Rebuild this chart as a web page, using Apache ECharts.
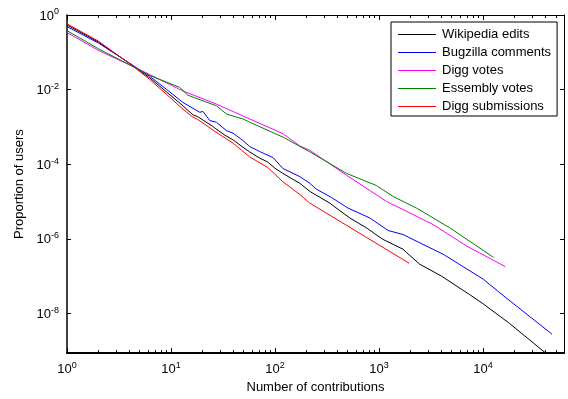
<!DOCTYPE html>
<html>
<head>
<meta charset="utf-8">
<script src="https://cdn.jsdelivr.net/npm/echarts@6/dist/echarts.min.js"></script>
<style>
html, body { margin: 0; padding: 0; background: #fff; }
#chart { width: 568px; height: 399px; }
</style>
</head>
<body>
<div id="chart"></div>
<script>
// values (log-log)
const wikiX = [1, 2, 3, 4, 6.2, 9, 13, 16.3, 18, 25, 27, 33, 40, 48, 57, 70, 85, 100, 119, 145, 173, 216, 270, 336, 420, 523, 640, 757, 900, 1090, 1400, 1700, 1840, 2460, 4000, 7450, 10000, 18000, 40000, 45000];
const wikiY = [0.54, 0.19, 0.087, 0.05, 0.021, 0.0088, 0.0037, 0.0021, 0.0019, 1.05e-3, 8.9e-4, 6.0e-4, 4.4e-4, 3.0e-4, 2.15e-4, 1.5e-4, 1.15e-4, 7.8e-5, 5.7e-5, 4.1e-5, 3.1e-5, 1.87e-5, 1.3e-5, 9.1e-6, 5.7e-6, 3.65e-6, 2.6e-6, 1.98e-6, 1.4e-6, 9.7e-7, 6.9e-7, 5.3e-7, 4.3e-7, 2.1e-7, 1.0e-7, 3.2e-8, 1.83e-8, 5.4e-9, 8.7e-10, 6.5e-10];

const bugX = [1, 2, 3, 4, 6.2, 9, 13, 18.9, 20.3, 23.6, 27.3, 34, 39.5, 49, 57, 71, 96, 119, 173, 216, 250, 348, 503, 814, 1222, 1702, 2649, 4121, 10000, 15560, 46000];
const bugY = [0.49, 0.178, 0.086, 0.051, 0.0231, 0.0103, 4.55e-3, 2.47e-3, 2.6e-3, 1.48e-3, 1.34e-3, 8.0e-4, 6.8e-4, 4.36e-4, 3.0e-4, 2.2e-4, 1.5e-4, 7.7e-5, 4.66e-5, 3.1e-5, 2.15e-5, 1.29e-5, 6.7e-6, 3.65e-6, 1.68e-6, 1.31e-6, 7.1e-7, 3.9e-7, 8.4e-8, 3.06e-8, 2.8e-9];

const diggVotesX = [1, 2, 3, 4, 6.2, 13, 27.3, 57, 119, 173, 216, 486, 1178, 3304, 6918, 16400];
const diggVotesY = [0.34, 0.113, 0.0665, 0.046, 0.0256, 9.2e-3, 4.1e-3, 1.64e-3, 6.6e-4, 3.1e-4, 2.37e-4, 5.1e-5, 1.01e-5, 2.43e-6, 6.5e-7, 1.8e-7];

const essX = [1, 2, 3, 4, 6.2, 9, 12.1, 14.5, 22, 27.3, 34.1, 49.2, 57, 119, 216, 486, 944, 1365, 2290, 4786, 12590];
const essY = [0.38, 0.125, 0.07, 0.046, 0.0241, 0.016, 0.0115, 7.1e-3, 4.6e-3, 3.7e-3, 2.22e-3, 1.64e-3, 1.34e-3, 5.36e-4, 2.15e-4, 5.7e-5, 2.69e-5, 1.37e-5, 6.7e-6, 1.98e-6, 3.2e-7];

const diggSubX = [1, 2, 3, 4, 6.2, 9, 13, 16.3, 18, 27, 34, 40, 57, 85, 119, 173, 216, 1942];
const diggSubY = [0.58, 0.2, 0.088, 0.05, 0.019, 0.0076, 3.0e-3, 1.82e-3, 1.6e-3, 7.3e-4, 4.8e-4, 3.56e-4, 1.58e-4, 8.2e-5, 3.4e-5, 1.55e-5, 9.1e-6, 2.24e-7];

const majorX = [1, 10, 100, 1000, 10000];
const minorX = [2, 3, 4, 5, 6, 7, 8, 9, 20, 30, 40, 50, 60, 70, 80, 90,
  200, 300, 400, 500, 600, 700, 800, 900, 2000, 3000, 4000, 5000, 6000, 7000, 8000, 9000,
  20000, 30000, 40000, 50000, 60000];
const majorY = [1e-8, 1e-6, 1e-4, 1e-2, 1];

const FONT = '"Liberation Sans", Arial, Helvetica, sans-serif';

function pairs(xs, ys) {
    return xs.map(function (x, i) { return [x, ys[i]]; });
}

function powLabel(v) {
    const e = Math.round(Math.log10(v));
    return '{b|10}{s|' + e + '}';
}

const rich = {
    b: { fontSize: 13, fontFamily: FONT, color: '#000', lineHeight: 15, verticalAlign: 'bottom' },
    s: { fontSize: 9, fontFamily: FONT, color: '#000', lineHeight: 15, verticalAlign: 'top' }
};

const chart = echarts.init(document.getElementById('chart'));

function xAx(pos, ticks, len, showLine, lineW, extra) {
    return Object.assign({
        type: 'log', logBase: 10, min: 1, max: 60000, position: pos,
        axisLine: { show: showLine, lineStyle: { color: '#000', width: lineW } },
        axisTick: { inside: true, length: len, customValues: ticks, lineStyle: { color: '#000', width: 1 } },
        axisLabel: { show: false },
        splitLine: { show: false },
        minorTick: { show: false }
    }, extra || {});
}

function yAx(pos, showLabel, lineW, extra) {
    return Object.assign({
        type: 'log', logBase: 10, min: 8.7e-10, max: 1, position: pos,
        axisLine: { show: true, lineStyle: { color: '#000', width: lineW } },
        axisTick: { inside: true, length: 4, customValues: majorY, lineStyle: { color: '#000', width: 1 } },
        axisLabel: showLabel ? { customValues: majorY, formatter: powLabel, rich: rich, margin: 8 } : { show: false },
        splitLine: { show: false },
        minorTick: { show: false }
    }, extra || {});
}

const lineSeries = function (name, xs, ys, color) {
    return {
        name: name, type: 'line', data: pairs(xs, ys),
        xAxisIndex: 0, yAxisIndex: 0,
        symbol: 'none', clip: true,
        lineStyle: { color: color, width: 1 },
        itemStyle: { color: color }
    };
};

const option = {
    animation: false,
    backgroundColor: '#fff',
    textStyle: { fontFamily: FONT },
    grid: { left: 67, right: 4, top: 15, bottom: 42, containLabel: false },
    legend: {
        left: 391, top: 22,
        orient: 'vertical',
        icon: 'rect',
        padding: [6, 6, 3, 7],
        itemWidth: 38, itemHeight: 1, itemGap: 5,
        borderColor: '#000', borderWidth: 1, backgroundColor: '#fff',
        textStyle: { fontSize: 13, color: '#000', fontFamily: FONT, padding: [0, 0, 0, 1], lineHeight: 13 }
    },
    xAxis: [
        xAx('bottom', majorX, 5, true, 2, {
            name: 'Number of contributions', nameLocation: 'middle', nameGap: 25,
            nameTextStyle: { fontSize: 13, color: '#000', fontFamily: FONT },
            axisLabel: { customValues: majorX, formatter: powLabel, rich: rich, margin: 8 }
        }),
        xAx('bottom', minorX, 3, false, 1),
        xAx('top', majorX, 5, true, 1),
        xAx('top', minorX, 3, false, 1)
    ],
    yAxis: [
        yAx('left', true, 1.5, {
            name: 'Proportion of users', nameLocation: 'middle', nameGap: 40,
            nameTextStyle: { fontSize: 13, color: '#000', fontFamily: FONT }
        }),
        yAx('right', false, 1)
    ],
    series: [
        lineSeries('Wikipedia edits', wikiX, wikiY, '#000000'),
        lineSeries('Bugzilla comments', bugX, bugY, '#0000ff'),
        lineSeries('Digg votes', diggVotesX, diggVotesY, '#ff00ff'),
        lineSeries('Essembly votes', essX, essY, '#008000'),
        lineSeries('Digg submissions', diggSubX, diggSubY, '#ff0000')
    ]
};

chart.setOption(option);
</script>
</body>
</html>
